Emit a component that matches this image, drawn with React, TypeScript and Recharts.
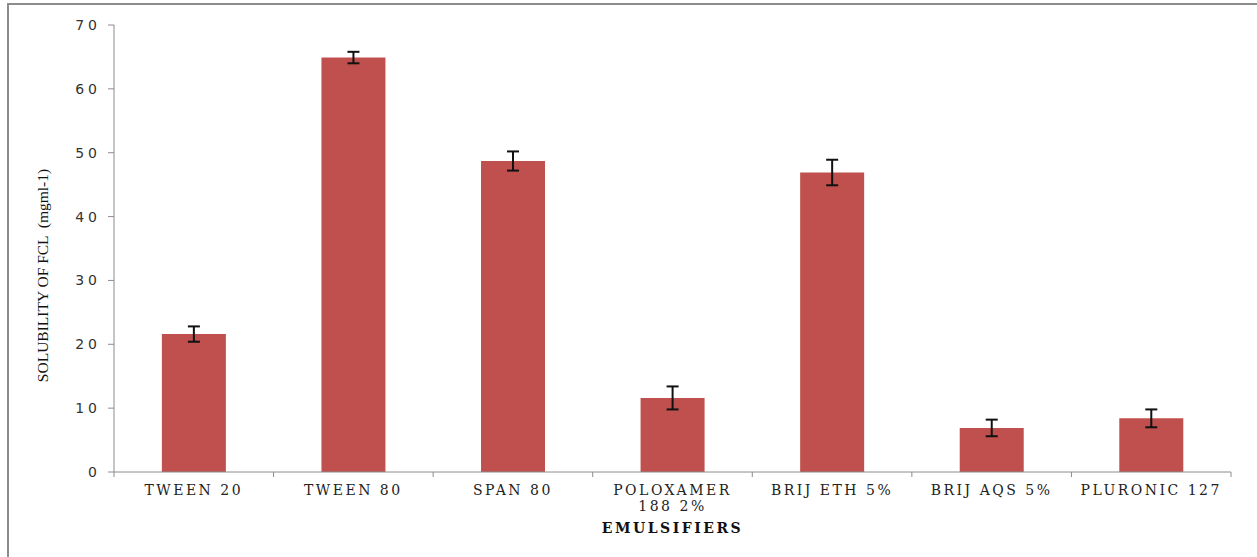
import { Bar, BarChart, ErrorBar, Label, XAxis, YAxis } from "recharts";

const categories = [
  "TWEEN 20",
  "TWEEN 80",
  "SPAN 80",
  "POLOXAMER 188 2%",
  "BRIJ ETH 5%",
  "BRIJ AQS 5%",
  "PLURONIC 127",
];
const solubility = [21.6, 64.9, 48.7, 11.6, 46.9, 6.9, 8.4];
const errors = [1.2, 0.9, 1.5, 1.8, 2.0, 1.3, 1.4];
const yTicks = [0, 10, 20, 30, 40, 50, 60, 70];

const data = categories.map((name, i) => ({
  name,
  value: solubility[i],
  err: errors[i],
}));

const W = 1257;
const H = 557;
const AXIS = "#8c8c8c";
const BAR = "#c0504d";
const SERIF = "'DejaVu Serif', 'Liberation Serif', serif";

function wrap(s: string) {
  if (s.length <= 13) return [s];
  const i = s.indexOf(" ");
  return [s.slice(0, i), s.slice(i + 1)];
}

function CatTick(props: any) {
  const { x, y, payload, index } = props;
  const half = payload?.offset || 79.75;
  const lines = wrap(String(payload.value));
  return (
    <g>
      <line x1={x - half} y1={y} x2={x - half} y2={y + 5} stroke={AXIS} />
      {index === categories.length - 1 && (
        <line x1={x + half} y1={y} x2={x + half} y2={y + 5} stroke={AXIS} />
      )}
      <text
        x={x}
        y={y + 23}
        textAnchor="middle"
        fontFamily={SERIF}
        fontSize={14}
        letterSpacing={2.5}
        fill="#222"
      >
        {lines.map((l, i) => (
          <tspan key={i} x={x} dy={i ? 16 : 0}>
            {l}
          </tspan>
        ))}
      </text>
    </g>
  );
}

export default function App() {
  return (
    <div style={{ position: "absolute", left: 0, top: 0, width: W, height: H, background: "#fff", overflow: "hidden" }}>
      <div
        style={{
          position: "absolute",
          left: 7,
          top: 3,
          width: W + 10,
          height: H + 10,
          borderLeft: `2px solid ${AXIS}`,
          borderTop: `2px solid ${AXIS}`,
        }}
      />
      <div style={{ position: "absolute", left: 0, top: 0 }}>
        <BarChart
          width={W}
          height={H}
          data={data}
          margin={{ top: 25, right: 26, left: 54, bottom: 25 }}
          barCategoryGap="30%"
        >
          <XAxis
            dataKey="name"
            interval={0}
            stroke={AXIS}
            tickLine={false}
            tickSize={0}
            tickMargin={0}
            height={60}
            tick={<CatTick />}
          >
            <Label
              content={(p: any) => {
                const vb = p.viewBox;
                return (
                  <text
                    x={vb.x + vb.width / 2}
                    y={vb.y + 61}
                    textAnchor="middle"
                    fontFamily={SERIF}
                    fontWeight="bold"
                    fontSize={14}
                    letterSpacing={2.5}
                    fill="#111"
                  >
                    EMULSIFIERS
                  </text>
                );
              }}
            />
          </XAxis>
          <YAxis
            domain={[0, 70]}
            ticks={yTicks}
            width={60}
            stroke={AXIS}
            tickSize={6}
            tickMargin={7}
            tick={{ fontFamily: "'DejaVu Sans', sans-serif", fontSize: 14, letterSpacing: 4, fill: "#333" }}
          >
            <Label
              content={(p: any) => {
                const vb = p.viewBox;
                const cx = vb.x - 12;
                const cy = vb.y + vb.height / 2 + 27;
                return (
                  <text
                    x={cx}
                    y={cy}
                    transform={`rotate(-90 ${cx} ${cy})`}
                    textAnchor="middle"
                    dominantBaseline="central"
                    fontFamily="'Liberation Serif', serif"
                    fontSize={15.5}
                    fill="#111"
                    style={{ whiteSpace: "pre" }}
                  >
                    SOLUBILITY OF FCL  (mgml-1)
                  </text>
                );
              }}
            />
          </YAxis>
          <Bar dataKey="value" fill={BAR} isAnimationActive={false}>
            <ErrorBar dataKey="err" width={6} stroke="#111" strokeWidth={2} isAnimationActive={false} />
          </Bar>
        </BarChart>
      </div>
    </div>
  );
}
